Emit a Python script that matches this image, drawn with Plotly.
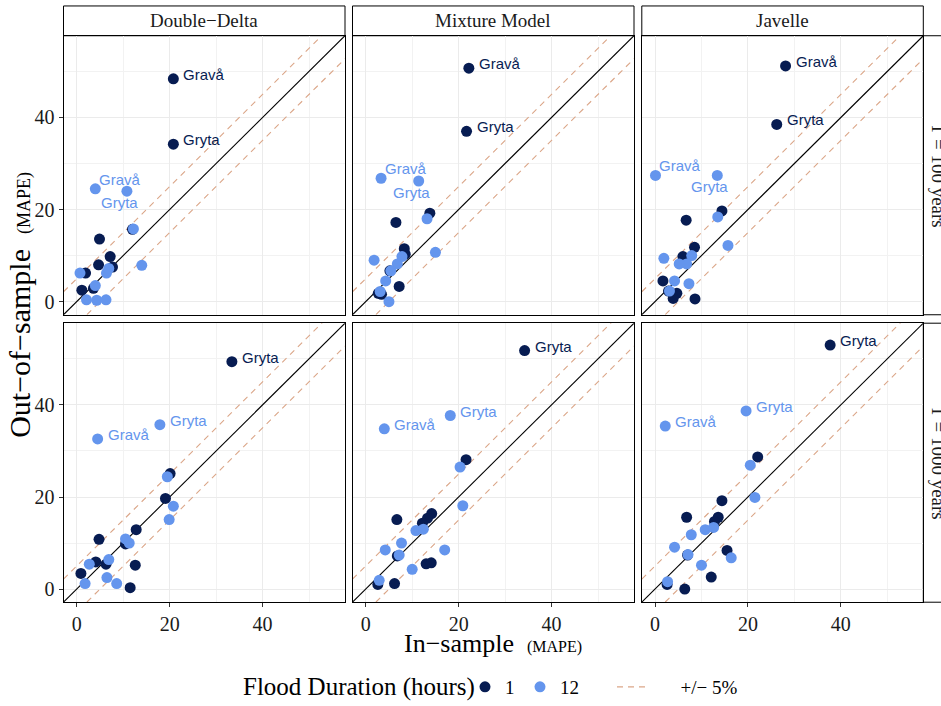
import plotly.graph_objects as go

W, H = 941, 706
SERIF = "Liberation Serif"
SANS = "Liberation Sans"
DARK = "#071C52"
LIGHT = "#6495ED"
BAND_COLOR = "#DBA688"
BAND = 5  # +/- 5 percentage points around the 1:1 line
AX_RANGE = [-2.85, 57.75]

methods = ["Double−Delta", "Mixture Model", "Javelle"]
periods = ["T = 100 years", "T = 1000 years"]
durations = ["1", "12"]

# ---- Double-Delta, T = 100 years ----
dd_t100_d1_in = [20.8, 20.8, 4.9, 7.2, 4.7, 7.7, 1.9, 1.1, 3.6, 12.0]
dd_t100_d1_out = [48.4, 34.2, 13.6, 9.8, 8.0, 7.5, 6.2, 2.5, 2.9, 15.7]
dd_t100_d1_lab = ["Gravå", "Gryta"]
dd_t100_d12_in = [4.0, 10.8, 12.2, 14.0, 0.7, 6.4, 6.9, 4.0, 2.1, 4.3, 6.3]
dd_t100_d12_out = [24.5, 24.0, 15.8, 7.9, 6.2, 6.2, 7.2, 3.5, 0.4, 0.3, 0.4]
dd_t100_d12_lab = ["Gravå", "Gryta"]

# ---- Mixture Model, T = 100 years ----
mm_t100_d1_in = [22.2, 21.7, 6.5, 13.8, 8.3, 8.5, 7.2, 2.7, 3.4, 5.2]
mm_t100_d1_out = [50.7, 37.0, 17.2, 19.2, 11.5, 10.3, 3.3, 1.8, 1.6, 6.7]
mm_t100_d1_lab = ["Gravå", "Gryta"]
mm_t100_d12_in = [3.3, 11.4, 13.2, 15.0, 1.8, 7.8, 6.8, 5.4, 4.3, 3.1, 5.0]
mm_t100_d12_out = [26.8, 26.2, 18.0, 10.7, 9.0, 9.8, 8.2, 6.7, 4.5, 2.2, 0.0]
mm_t100_d12_lab = ["Gravå", "Gryta"]

# ---- Javelle, T = 100 years ----
jv_t100_d1_in = [28.1, 26.2, 6.7, 14.4, 8.5, 6.0, 1.7, 4.7, 3.9, 8.6, 2.9]
jv_t100_d1_out = [51.2, 38.5, 17.7, 19.7, 11.8, 9.8, 4.5, 1.8, 0.7, 0.6, 2.3]
jv_t100_d1_lab = ["Gravå", "Gryta"]
jv_t100_d12_in = [0.1, 13.4, 13.5, 15.7, 1.9, 7.9, 6.8, 5.2, 4.2, 7.3, 3.1]
jv_t100_d12_out = [27.4, 27.4, 18.4, 12.2, 9.4, 10.0, 8.2, 8.2, 4.5, 3.9, 2.3]
jv_t100_d12_lab = ["Gravå", "Gryta"]

# ---- Double-Delta, T = 1000 years ----
dd_t1000_d1_in = [33.4, 20.1, 19.1, 12.8, 4.8, 10.5, 4.1, 6.3, 12.6, 0.9, 11.5]
dd_t1000_d1_out = [49.4, 25.1, 19.7, 12.9, 10.8, 9.8, 5.9, 5.4, 5.2, 3.4, 0.3]
dd_t1000_d1_lab = ["Gryta"]
dd_t1000_d12_in = [4.5, 17.9, 19.5, 20.8, 19.9, 10.5, 11.3, 2.7, 6.9, 6.5, 8.6, 1.8]
dd_t1000_d12_out = [32.6, 35.7, 24.4, 18.0, 15.1, 10.9, 10.0, 5.4, 6.4, 2.5, 1.2, 1.2]
dd_t1000_d12_lab = ["Gravå", "Gryta"]

# ---- Mixture Model, T = 1000 years ----
mm_t1000_d1_in = [34.2, 21.6, 14.2, 13.3, 12.2, 6.7, 6.8, 13.0, 14.1, 6.2, 2.6]
mm_t1000_d1_out = [51.8, 28.1, 16.4, 15.4, 14.3, 15.1, 7.2, 5.5, 5.7, 1.2, 1.0]
mm_t1000_d1_lab = ["Gryta"]
mm_t1000_d12_in = [4.0, 18.2, 20.3, 20.9, 10.8, 12.4, 7.7, 4.2, 7.2, 17.0, 10.0, 2.9]
mm_t1000_d12_out = [34.8, 37.7, 26.5, 18.1, 12.7, 13.0, 10.0, 8.5, 7.4, 8.5, 4.3, 1.9]
mm_t1000_d12_lab = ["Gravå", "Gryta"]

# ---- Javelle, T = 1000 years ----
jv_t1000_d1_in = [37.7, 22.1, 14.4, 13.6, 12.8, 6.8, 7.0, 15.5, 12.1, 2.6, 6.4]
jv_t1000_d1_out = [53.0, 28.7, 19.2, 15.6, 14.7, 15.6, 7.4, 8.4, 2.6, 1.0, 0.0]
jv_t1000_d1_lab = ["Gryta"]
jv_t1000_d12_in = [2.2, 19.6, 20.5, 21.5, 10.8, 12.6, 7.8, 4.2, 7.1, 16.4, 10.0, 2.7]
jv_t1000_d12_out = [35.4, 38.7, 26.9, 19.9, 12.9, 13.4, 11.8, 9.1, 7.5, 6.8, 5.2, 1.6]
jv_t1000_d12_lab = ["Gravå", "Gryta"]

panel_data = {
    (0, 0): {"1": (dd_t100_d1_in, dd_t100_d1_out, dd_t100_d1_lab),
             "12": (dd_t100_d12_in, dd_t100_d12_out, dd_t100_d12_lab)},
    (0, 1): {"1": (mm_t100_d1_in, mm_t100_d1_out, mm_t100_d1_lab),
             "12": (mm_t100_d12_in, mm_t100_d12_out, mm_t100_d12_lab)},
    (0, 2): {"1": (jv_t100_d1_in, jv_t100_d1_out, jv_t100_d1_lab),
             "12": (jv_t100_d12_in, jv_t100_d12_out, jv_t100_d12_lab)},
    (1, 0): {"1": (dd_t1000_d1_in, dd_t1000_d1_out, dd_t1000_d1_lab),
             "12": (dd_t1000_d12_in, dd_t1000_d12_out, dd_t1000_d12_lab)},
    (1, 1): {"1": (mm_t1000_d1_in, mm_t1000_d1_out, mm_t1000_d1_lab),
             "12": (mm_t1000_d12_in, mm_t1000_d12_out, mm_t1000_d12_lab)},
    (1, 2): {"1": (jv_t1000_d1_in, jv_t1000_d1_out, jv_t1000_d1_lab),
             "12": (jv_t1000_d12_in, jv_t1000_d12_out, jv_t1000_d12_lab)},
}
dur_color = {"1": DARK, "12": LIGHT}
dur_legend = {"1": "legend", "12": "legend3"}

# panel geometry in page pixels
col_px = [(63.5, 345.0), (352.5, 634.0), (641.8, 923.3)]
row_px = [(36.0, 317.0), (325.5, 606.5)]
STRIP_TOP = 6.0
RSTRIP_W = 30.0
LEGEND_Y = 692


def px_x(v):
    return v / W


def px_y(v):
    return 1 - v / H


def label_offset(row, dur, name):
    # text placement relative to its point (pixels): anchor, xshift, yshift
    if row == 0 and dur == "12":
        if name == "Gravå":
            return "left", 1.5, 9.5
        return "center", -7.5, -11
    return "left", 8, 4.5


fig = go.Figure()
annotations = []
shapes = []
layout_axes = {}

for (r, c), series in panel_data.items():
    k = r * 3 + c + 1
    xa = "x" if k == 1 else f"x{k}"
    ya = "y" if k == 1 else f"y{k}"
    lo, hi = AX_RANGE
    first = (k == 1)

    # reference lines: 1:1 and +/- band
    fig.add_trace(go.Scatter(x=[lo, hi], y=[lo + BAND, hi + BAND], mode="lines",
                             line=dict(color=BAND_COLOR, width=1.1, dash="6px,5px"),
                             xaxis=xa, yaxis=ya, name="\u2003\u2002+/− 5%", legend="legend2",
                             legendgroup="band", showlegend=first, hoverinfo="skip"))
    fig.add_trace(go.Scatter(x=[lo, hi], y=[lo - BAND, hi - BAND], mode="lines",
                             line=dict(color=BAND_COLOR, width=1.1, dash="6px,5px"),
                             xaxis=xa, yaxis=ya, showlegend=False, legend="legend2",
                             legendgroup="band", hoverinfo="skip"))
    fig.add_trace(go.Scatter(x=[lo, hi], y=[lo, hi], mode="lines",
                             line=dict(color="black", width=1.1),
                             xaxis=xa, yaxis=ya, showlegend=False, hoverinfo="skip"))

    for dur in durations:
        xin, yout, labs = series[dur]
        fig.add_trace(go.Scatter(x=xin, y=yout, mode="markers",
                                 marker=dict(color=dur_color[dur], size=11, line=dict(width=0)),
                                 xaxis=xa, yaxis=ya, name=dur, legendgroup=dur,
                                 legend=dur_legend[dur], showlegend=first))
        for i, name in enumerate(labs):
            anchor, xs, ys = label_offset(r, dur, name)
            annotations.append(dict(x=xin[i], y=yout[i], xref=xa, yref=ya, text=name,
                                    showarrow=False, xanchor=anchor, yanchor="middle",
                                    xshift=xs, yshift=ys,
                                    font=dict(family=SANS, size=15, color=dur_color[dur])))

    x0, x1 = col_px[c]
    y0, y1 = row_px[r]
    common = dict(range=AX_RANGE, showline=True, mirror=True, linecolor="black",
                  linewidth=1, zeroline=False, showgrid=True, gridcolor="#EBEBEB",
                  gridwidth=1.1, tickvals=[0, 20, 40],
                  minor=dict(tickvals=[10, 30, 50], showgrid=True,
                             gridcolor="#F2F2F2", gridwidth=0.6),
                  tickfont=dict(family=SERIF, size=20, color="#1A1A1A"),
                  fixedrange=True)
    xkey = "xaxis" if k == 1 else f"xaxis{k}"
    ykey = "yaxis" if k == 1 else f"yaxis{k}"
    xax = dict(common, domain=[px_x(x0), px_x(x1)], anchor=ya)
    yax = dict(common, domain=[px_y(y1), px_y(y0)], anchor=xa)
    if r == 1:
        xax.update(ticks="outside", ticklen=4, tickcolor="#333333", tickwidth=1,
                   showticklabels=True)
    else:
        xax.update(ticks="", showticklabels=False)
    if c == 0:
        yax.update(ticks="outside", ticklen=4, tickcolor="#333333", tickwidth=1,
                   showticklabels=True)
    else:
        yax.update(ticks="", showticklabels=False)
    layout_axes[xkey] = xax
    layout_axes[ykey] = yax

# facet strips: methods across the top
for c, m in enumerate(methods):
    x0, x1 = col_px[c]
    shapes.append(dict(type="rect", xref="paper", yref="paper",
                       x0=px_x(x0), x1=px_x(x1), y0=px_y(row_px[0][0]), y1=px_y(STRIP_TOP),
                       line=dict(color="black", width=1), fillcolor="white", layer="below"))
    annotations.append(dict(x=px_x((x0 + x1) / 2), y=px_y((STRIP_TOP + row_px[0][0]) / 2),
                            xref="paper", yref="paper", text=m, showarrow=False,
                            xanchor="center", yanchor="middle",
                            font=dict(family=SERIF, size=19, color="#1A1A1A")))

# facet strips: return periods on the right
rx0 = col_px[2][1]
for r, p in enumerate(periods):
    y0, y1 = row_px[r]
    shapes.append(dict(type="rect", xref="paper", yref="paper",
                       x0=px_x(rx0), x1=px_x(rx0 + RSTRIP_W), y0=px_y(y1), y1=px_y(y0),
                       line=dict(color="black", width=1), fillcolor="white", layer="below"))
    annotations.append(dict(x=px_x(rx0 + 15), y=px_y((y0 + y1) / 2), xref="paper", yref="paper",
                            text=p, showarrow=False, textangle=90,
                            xanchor="center", yanchor="middle",
                            font=dict(family=SERIF, size=19, color="#1A1A1A")))

# axis titles
panels_mid_x = (col_px[0][0] + col_px[2][1]) / 2
annotations.append(dict(x=px_x(panels_mid_x), y=px_y(648), xref="paper", yref="paper",
                        text="In−sample  <span style='font-size:16px'>(MAPE)</span>",
                        showarrow=False, xanchor="center", yanchor="middle",
                        font=dict(family=SERIF, size=26, color="black")))
annotations.append(dict(x=px_x(20), y=px_y(307), xref="paper", yref="paper",
                        text="Out−of−sample  <span style='font-size:18px'>(MAPE)</span>",
                        showarrow=False, textangle=-90, xanchor="center", yanchor="middle",
                        font=dict(family=SERIF, size=30, color="black")))

# legend title
annotations.append(dict(x=px_x(477), y=px_y(LEGEND_Y), xref="paper", yref="paper",
                        text="Flood Duration (hours)", showarrow=False,
                        xanchor="right", yanchor="middle",
                        font=dict(family=SERIF, size=25, color="black")))

legend_common = dict(orientation="h", xanchor="left", y=px_y(LEGEND_Y), yanchor="middle",
                     font=dict(family=SERIF, size=19, color="black"),
                     bgcolor="rgba(0,0,0,0)")

fig.update_layout(
    width=W, height=H,
    margin=dict(l=0, r=0, t=0, b=0),
    paper_bgcolor="white", plot_bgcolor="white",
    showlegend=True,
    legend=dict(legend_common, x=px_x(465)),
    legend3=dict(legend_common, x=px_x(520)),
    legend2=dict(legend_common, x=px_x(612)),
    annotations=annotations,
    shapes=shapes,
    **layout_axes,
)

fig.write_html("out.html")
